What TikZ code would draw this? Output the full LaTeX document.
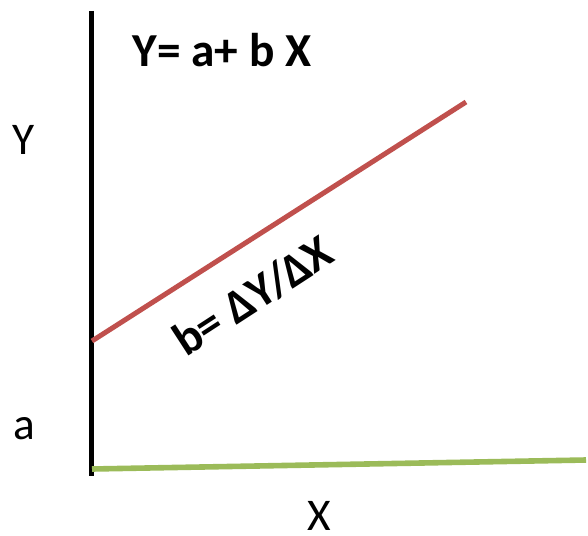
\documentclass[tikz,border=0pt]{standalone}
\usepackage{fontspec}
\setmainfont{Carlito}
\definecolor{linered}{HTML}{C0504D}
\definecolor{linegreen}{HTML}{9BBB59}
\tikzset{
  lbl/.style={inner sep=0pt, font=\fontsize{34}{40}\selectfont},
  blbl/.style={inner sep=0pt, font=\fontsize{35.5}{40}\selectfont\bfseries}
}
\begin{document}
\begin{tikzpicture}[x=0.75pt, y=-0.75pt]
	\useasboundingbox (0,0) rectangle (588,535);

	% Axes
	\coordinate (T) at (91,11);
	\coordinate (O) at (91,476);
	\coordinate (G0) at (92,469);
	\coordinate (G1) at (586,460);
	\draw[line width=3.75pt] (T) -- (O);
	\draw[linegreen, line width=4.2pt] (G0) -- (G1);

	% Regression line
	\coordinate (R0) at (92,341);
	\coordinate (R1) at (466,102);
	\draw[linered, line width=3.75pt] (R0) -- (R1);

	% Labels
	\node[lbl] (ylab) at (24,140) {Y};
	\node[lbl] (alab) at (24,429) {a};
	\node[lbl] (xlab) at (319,516) {X};
	\node[blbl] (eqn) at (222,50) {Y= a+ b X};
	\node[blbl, rotate=33] (slope) at (253,296) {b= ΔY/ΔX};

\end{tikzpicture}
\end{document}
